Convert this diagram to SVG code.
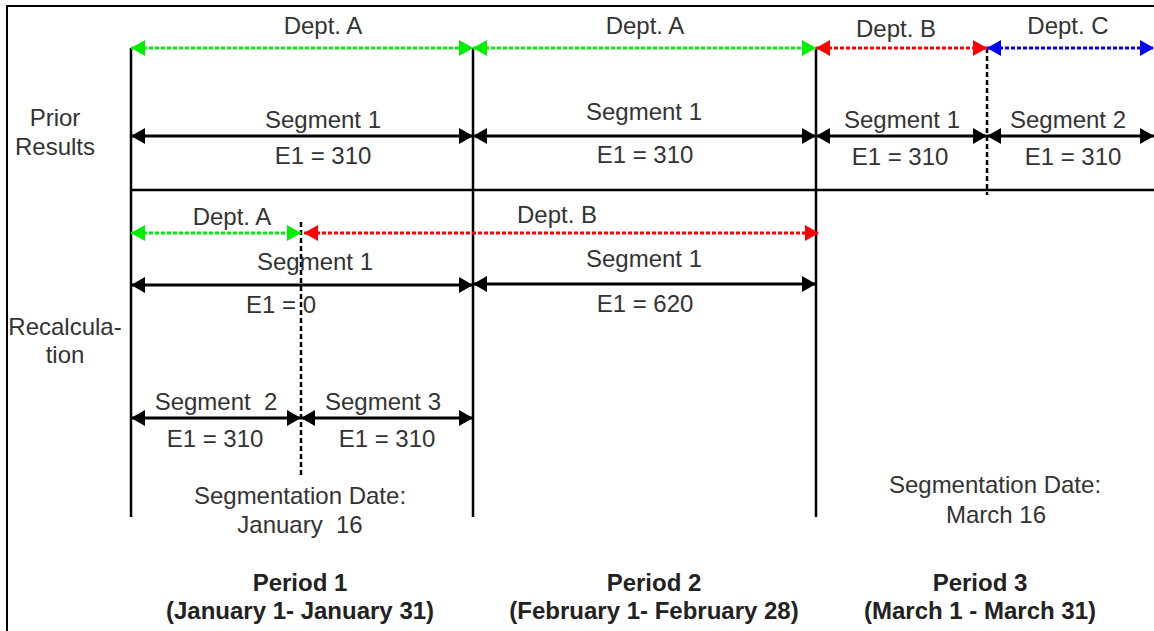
<svg xmlns="http://www.w3.org/2000/svg" width="1154" height="631" viewBox="0 0 1154 631">
<style>
text{font-family:"Liberation Sans",Arial,sans-serif;font-size:24px;fill:#333;text-anchor:middle}
.b{font-weight:bold;fill:#222}
.ln{stroke:#000;stroke-width:2.5;fill:none}
.dv{stroke:#000;stroke-width:2.5;stroke-dasharray:5 3;fill:none}
.seg{stroke:#000;stroke-width:3;fill:none;marker-start:url(#hk);marker-end:url(#hk)}
.dg{stroke:#00ee00;stroke-width:3;stroke-dasharray:4 2;fill:none;marker-start:url(#hg);marker-end:url(#hg)}
.dr{stroke:#ff0000;stroke-width:3;stroke-dasharray:4 2;fill:none;marker-start:url(#hr);marker-end:url(#hr)}
.db{stroke:#0000ff;stroke-width:3;stroke-dasharray:4 2;fill:none;marker-start:url(#hb);marker-end:url(#hb)}
</style>
<defs>
<marker id="hk" markerUnits="userSpaceOnUse" markerWidth="15" markerHeight="18" refX="14" refY="8" orient="auto-start-reverse"><path d="M0,0 L14,8 L0,16 z" fill="#000"/></marker>
<marker id="hg" markerUnits="userSpaceOnUse" markerWidth="15" markerHeight="18" refX="14" refY="8" orient="auto-start-reverse"><path d="M0,0 L14,8 L0,16 z" fill="#00ee00"/></marker>
<marker id="hr" markerUnits="userSpaceOnUse" markerWidth="15" markerHeight="18" refX="14" refY="8" orient="auto-start-reverse"><path d="M0,0 L14,8 L0,16 z" fill="#ff0000"/></marker>
<marker id="hb" markerUnits="userSpaceOnUse" markerWidth="15" markerHeight="18" refX="14" refY="8" orient="auto-start-reverse"><path d="M0,0 L14,8 L0,16 z" fill="#0000ff"/></marker>
</defs>
<rect width="1154" height="631" fill="#fff"/>
<path d="M7,631 V6 H1154" stroke="#000" stroke-width="2" fill="none"/>

<g id="connectors">
  <line class="ln" x1="131" y1="48" x2="131" y2="517"/>
  <line class="ln" x1="473" y1="48" x2="473" y2="517"/>
  <line class="ln" x1="816" y1="48" x2="816" y2="517"/>
  <line class="ln" x1="131" y1="190" x2="1154" y2="190"/>
  <line class="dv" x1="987" y1="48" x2="987" y2="195"/>
  <line class="dv" x1="301" y1="222" x2="301" y2="477"/>
  <line class="dg" x1="131" y1="48" x2="473" y2="48"/>
  <line class="dg" x1="473" y1="48" x2="816" y2="48"/>
  <line class="dr" x1="816" y1="48" x2="987" y2="48"/>
  <line class="db" x1="987" y1="48" x2="1154" y2="48"/>
  <line class="seg" x1="131" y1="136" x2="473" y2="136"/>
  <line class="seg" x1="473" y1="136" x2="816" y2="136"/>
  <line class="seg" x1="816" y1="136" x2="987" y2="136"/>
  <line class="seg" x1="987" y1="136" x2="1154" y2="136"/>
  <line class="dg" x1="131" y1="233" x2="301" y2="233"/>
  <line class="dr" x1="304" y1="233" x2="819" y2="233"/>
  <line class="seg" x1="131" y1="285" x2="473" y2="285"/>
  <line class="seg" x1="473" y1="284" x2="816" y2="284"/>
  <line class="seg" x1="131" y1="418" x2="301" y2="418"/>
  <line class="seg" x1="301" y1="418" x2="473" y2="418"/>
</g>

<g id="row-labels">
  <text x="55" y="126">Prior</text>
  <text x="55" y="155">Results</text>
  <text x="65" y="335">Recalcula-</text>
  <text x="65" y="363">tion</text>
</g>

<g id="prior-period1">
  <text x="323" y="34">Dept. A</text>
  <text x="323" y="128">Segment 1</text>
  <text x="323" y="164">E1 = 310</text>
</g>
<g id="prior-period2">
  <text x="645" y="34">Dept. A</text>
  <text x="644" y="120">Segment 1</text>
  <text x="645" y="163">E1 = 310</text>
</g>
<g id="prior-period3-seg1">
  <text x="896" y="37">Dept. B</text>
  <text x="902" y="128">Segment 1</text>
  <text x="900" y="165">E1 = 310</text>
</g>
<g id="prior-period3-seg2">
  <text x="1068" y="34">Dept. C</text>
  <text x="1068" y="128">Segment 2</text>
  <text x="1073" y="165">E1 = 310</text>
</g>

<g id="recalc-period1">
  <text x="232" y="225">Dept. A</text>
  <text x="315" y="270">Segment 1</text>
  <text x="281" y="313">E1 = 0</text>
  <text x="216" y="410" xml:space="preserve">Segment  2</text>
  <text x="215" y="447">E1 = 310</text>
  <text x="383" y="410">Segment 3</text>
  <text x="387" y="447">E1 = 310</text>
</g>
<g id="recalc-period2">
  <text x="557" y="223">Dept. B</text>
  <text x="644" y="267">Segment 1</text>
  <text x="645" y="312">E1 = 620</text>
</g>

<g id="segdate-jan">
  <text x="300" y="504">Segmentation Date:</text>
  <text x="300" y="533" xml:space="preserve">January  16</text>
</g>
<g id="segdate-mar">
  <text x="995" y="493">Segmentation Date:</text>
  <text x="996" y="523">March 16</text>
</g>

<g id="period1">
  <text class="b" x="300" y="591">Period 1</text>
  <text class="b" x="300" y="619">(January 1- January 31)</text>
</g>
<g id="period2">
  <text class="b" x="654" y="591">Period 2</text>
  <text class="b" x="654" y="619">(February 1- February 28)</text>
</g>
<g id="period3">
  <text class="b" x="980" y="591">Period 3</text>
  <text class="b" x="980" y="619">(March 1 - March 31)</text>
</g>
</svg>
